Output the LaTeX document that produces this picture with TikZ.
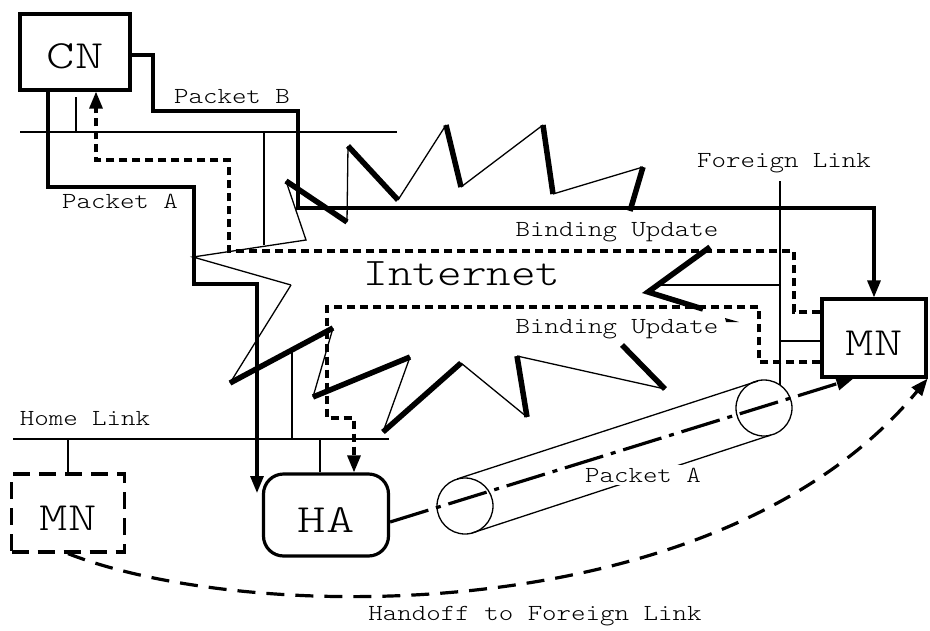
\documentclass[tikz,border=0pt]{standalone}
\usepackage{fontspec}
\setmonofont{Latin Modern Mono Light}[FakeStretch=1.2]
\newfontfamily\hostfont{Latin Modern Mono Light}[FakeStretch=1.35]
\usetikzlibrary{arrows.meta, calc}

\tikzset{
    link/.style={line width=1.3pt},
    pkt/.style={line width=3.2pt, -{Triangle[length=17pt, width=13pt]}},
    bupd/.style={pkt, dash pattern=on 8pt off 5pt},
    spike/.style={line width=5.5pt},
    host/.style={draw, line width=3.2pt, minimum height=78pt, text height=34pt, font=\hostfont\fontsize{40}{44}\selectfont},
    lbl/.style={fill=white, inner sep=3pt, anchor=base, font=\ttfamily\fontsize{23}{26}\selectfont},
}

\begin{document}
\begin{tikzpicture}[x=1pt, y=-1pt]

        \useasboundingbox (0,0) rectangle (930,630);

        % internet
        \draw[link] (291,285) -- (193,257) -- (306,240) -- (286,181);
        \draw[link] (347,222) -- (348,146) (398,200) -- (446,125) (461,187) -- (543,125) (553,194) -- (643,167);
        \draw[link] (665,389) -- (517,356) (527,417) -- (461,363) (383,432) -- (410,357) (313,397) -- (333,328) (230,383) -- (291,285);
        \draw[spike] (286,181) -- (347,222) (348,146) -- (398,200) (446,125) -- (461,187) (543,125) -- (553,194) (643,167) -- (630,211);
        \draw[spike] (710,247) -- (648,292) -- (703,309) (622,345) -- (665,389) (517,356) -- (527,417) (461,363) -- (383,432);
        \draw[spike] (410,357) -- (313,397) (333,328) -- (230,383);
        \fill (725,318) -- (739,322) -- (726,322) -- cycle;

        % links
        \draw[link] (20,132) -- (397,132);
        \draw[link] (13,439) -- (389,439);
        \draw[link] (780,181) -- (780,385);
        \draw[link] (76,97) -- (76,132);
        \draw[link] (264,132) -- (264,245);
        \draw[link] (292,351) -- (292,439);
        \draw[link] (660,285) -- (780,285);

        \node[host, minimum width=110pt, minimum height=76pt] (cn) at (75,52) {CN};
        \node[host, rounded corners=20pt, minimum width=125pt, minimum height=82pt] (ha) at (326,515) {HA};
        \node[host, dash pattern=on 17pt off 9pt, minimum width=113pt] (mnh) at (68,513) {MN};
        \node[host, minimum width=104pt] (mnf) at (874,338) {MN};

        \draw[link] (mnh.north) -- (mnh.north |- 0,439);
        \draw[link] (320,439) -- (ha.north -| 320,0);
        \draw[link] (780,341) -- (mnf.west |- 0,341);

        % tunnel
        \draw[link] (465,506) circle (28) (764,408) circle (28);
        \draw[link] (457,479) -- (758,381) (472,533) -- (771,435);

        \draw[pkt] (cn.east |- 0,55) -- (153,55) -- (153,111) -- (298,111) -- (298,208) -| (mnf.north);
        \draw[pkt] (cn.south -| 48,0) -- (48,187) -- (194,187) -- (194,284) -- (257,284) -- (257,493);
        \draw[bupd] (mnf.west |- 0,312) -- (794,312) -- (794,251) -- (229,251) -- (229,160) -- (96,160) -- (cn.south -| 96,0);
        \draw[bupd] (mnf.west |- 0,362) -- (759,362) -- (759,307) -- (327,307) -- (327,418) -- (354,418) -- (ha.north -| 354,0);
        \draw[pkt, dash pattern=on 40pt off 8pt on 5pt off 8pt] ([yshift=-7pt]ha.east) -- ([xshift=33pt]mnf.south west);
        \draw[pkt, dash pattern=on 18pt off 11pt] (mnh.south) .. controls (250,625) and (720,630) .. (mnf.south east);

        \node[lbl] (pb) at (232,103) {Packet B};
        \node[lbl] (pa) at (120,208) {Packet A};
        \node[lbl] (bu1) at (617,236) {Binding Update};
        \node[lbl] (bu2) at (617,333) {Binding Update};
        \node[lbl] (fl) at (784,167) {Foreign Link};
        \node[lbl] (hl) at (85,425) {Home Link};
        \node[lbl] (pt) at (643,482) {Packet A};
        \node[lbl] (ho) at (535,620) {Handoff to Foreign Link};
        \node[lbl, font=\ttfamily\fontsize{39}{42}\selectfont] (inet) at (462,285) {Internet};

    \end{tikzpicture}
\end{document}
